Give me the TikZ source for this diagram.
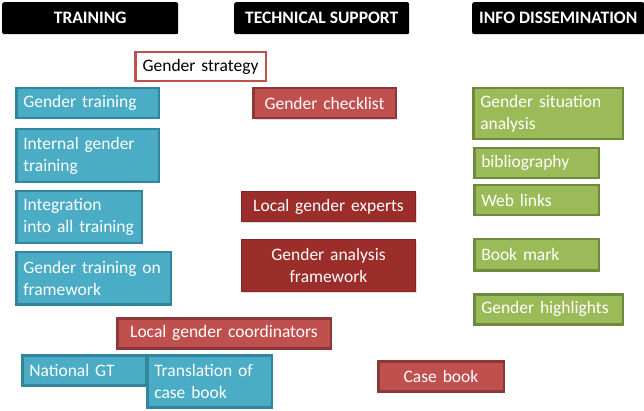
\documentclass[tikz,border=0pt]{standalone}
\usepackage{fontspec}
\setmainfont{Carlito}
\usetikzlibrary{shadows}
\definecolor{aqua}{HTML}{4BACC6}
\definecolor{aquadark}{HTML}{31859C}
\definecolor{brick}{HTML}{C0504D}
\definecolor{brickdark}{HTML}{8C3836}
\definecolor{wine}{HTML}{9B2D2A}
\definecolor{winedark}{HTML}{7A2220}
\definecolor{olive}{HTML}{9BBB59}
\definecolor{olivedark}{HTML}{71893F}
\begin{document}
\begin{tikzpicture}[x=1pt,y=-1pt,
    every node/.style={font=\fontsize{17.5}{22}\selectfont, anchor=north west, inner xsep=7pt, inner ysep=2pt},
    headbox/.style={fill=black, rounded corners=2pt, text=white, font=\fontsize{17.5}{20}\selectfont\bfseries, align=center},
    bluebox/.style={fill=aqua, draw=aquadark, line width=2.5pt, text=white, align=left},
    greenbox/.style={fill=olive, draw=olivedark, line width=2.5pt, text=white, align=left},
    redbox/.style={fill=brick, draw=brickdark, line width=2.5pt, text=white, align=center,
      drop shadow={shadow xshift=1.5pt, shadow yshift=-1.5pt, opacity=0.25}},
    winebox/.style={fill=wine, draw=winedark!60!wine, line width=1pt, text=white, align=center,
      drop shadow={shadow xshift=1.5pt, shadow yshift=-1.5pt, opacity=0.25}},
    outlinebox/.style={fill=white, draw=brick, line width=2.5pt, text=black, align=center}]
  \useasboundingbox (0,0) rectangle (644,411);
  % column headings
  \node[headbox, minimum width=176, minimum height=32] (train) at (2,2) {TRAINING};
  \node[headbox, minimum width=175, minimum height=32] (tech) at (234,2) {TECHNICAL SUPPORT};
  \node[headbox, minimum width=170, minimum height=32] (info) at (472,2) {INFO DISSEMINATION};
  % training
  \node[outlinebox, text width=116.5, minimum height=29] (strategy) at (134,51) {Gender strategy};
  \node[bluebox, text width=128.5, minimum height=30] (gtrain) at (15,87) {Gender training};
  \node[bluebox, text width=128.5, minimum height=53] (internal) at (15,128) {Internal gender\\training};
  \node[bluebox, text width=111.5, minimum height=52] (integ) at (15,190) {Integration\\into all training};
  \node[bluebox, text width=140.5, minimum height=52] (gtfw) at (15,251) {Gender training on\\framework};
  \node[bluebox, text width=109.5, minimum height=30] (natgt) at (21,354) {National GT};
  \node[bluebox, text width=110.5, minimum height=52] (transl) at (146,354) {Translation of\\case book};
  % technical support
  \node[redbox, text width=128.5, minimum height=30] (check) at (252,87) {Gender checklist};
  \node[winebox, text width=160, minimum height=30] (experts) at (241,191) {Local gender experts};
  \node[winebox, text width=160, minimum height=52] (gaf) at (241,239) {Gender analysis\\framework};
  \node[redbox, text width=199.5, minimum height=30] (coord) at (116,317) {Local gender coordinators};
  \node[redbox, text width=111.5, minimum height=30] (casebook) at (377,360) {Case book};
  % info dissemination
  \node[greenbox, text width=135.5, minimum height=51] (gsa) at (472,87) {Gender situation\\analysis};
  \node[greenbox, text width=110.5, minimum height=30] (biblio) at (473,147) {bibliography};
  \node[greenbox, text width=110.5, minimum height=30] (web) at (473,184) {Web links};
  \node[greenbox, text width=110.5, minimum height=31] (bookmark) at (473,238) {Book mark};
  \node[greenbox, text width=134.5, minimum height=30] (highlights) at (473,293) {Gender highlights};
\end{tikzpicture}
\end{document}
